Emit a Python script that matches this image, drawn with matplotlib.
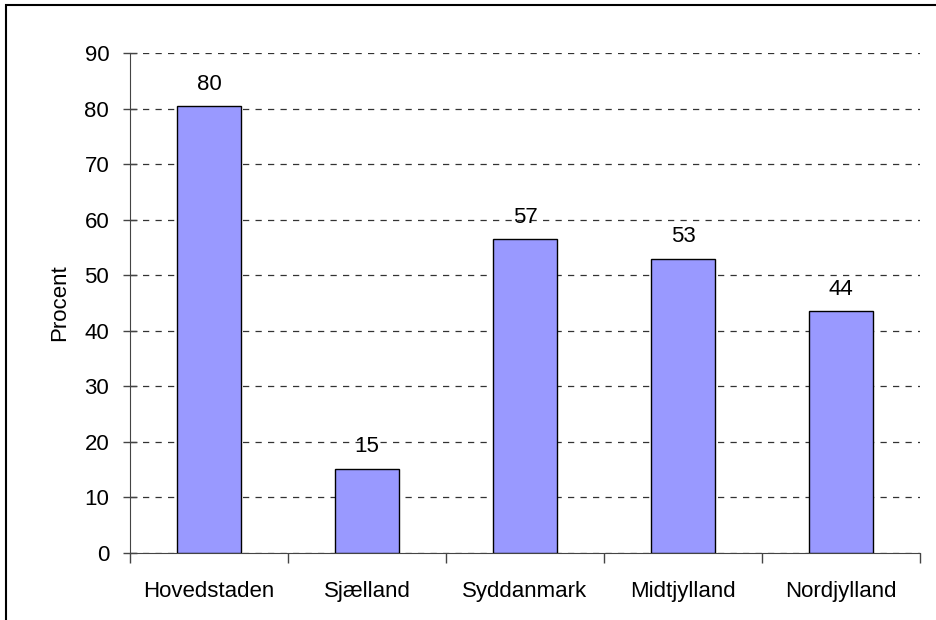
import matplotlib.pyplot as plt
from matplotlib.patches import Rectangle

# regions and share (procent)
regions = ["Hovedstaden", "Sjælland", "Syddanmark", "Midtjylland", "Nordjylland"]
values = [80.5, 15.2, 56.5, 53.0, 43.5]
labels = ["80", "15", "57", "53", "44"]
yticks = [0, 10, 20, 30, 40, 50, 60, 70, 80, 90]

plt.rcParams['font.family'] = ['Liberation Sans', 'DejaVu Sans']
fs = 16

fig = plt.figure(figsize=(9.37, 6.2), dpi=100)
ax = fig.add_axes([0.1387, 0.1081, 0.8431, 0.8065])

x = list(range(len(regions)))
bars = ax.bar(x, values, width=0.4, color="#9999FF", edgecolor="black", linewidth=1, zorder=3)

for b, lab in zip(bars, labels):
    ax.text(b.get_x() + b.get_width() / 2, b.get_height() + 2.0, lab,
            ha="center", va="bottom", fontsize=fs)

ax.set_xlim(-0.5, len(regions) - 0.5)
ax.set_ylim(0, 90)
ax.set_yticks(yticks)
ax.set_yticklabels([str(t) for t in yticks], fontsize=fs)
ax.yaxis.grid(True, linestyle=(0, (5, 5)), color="#333333", linewidth=0.9, zorder=0)

# category labels centred, tick marks between categories
ax.set_xticks(x)
ax.set_xticklabels(regions, fontsize=fs)
ax.tick_params(axis="x", length=0, pad=20)
ax.set_xticks([i - 0.5 for i in range(len(regions) + 1)], minor=True)
ax.tick_params(axis="x", which="minor", length=7, width=1, color="#444444")
ax.tick_params(axis="y", direction="inout", length=10, width=1, color="#444444", pad=10)

ax.spines["top"].set_visible(False)
ax.spines["right"].set_visible(False)
ax.spines["left"].set_color("#444444")
ax.spines["bottom"].set_color("#444444")

ax.set_ylabel("Procent", fontsize=fs, labelpad=10)

# outer chart frame
frame = Rectangle((6 / 937, -0.1), 1.2, 1 - 5 / 620 + 0.1, transform=fig.transFigure,
                  fill=False, edgecolor="black", linewidth=1.5)
fig.patches.append(frame)

fig.savefig("out.png", dpi=100)
